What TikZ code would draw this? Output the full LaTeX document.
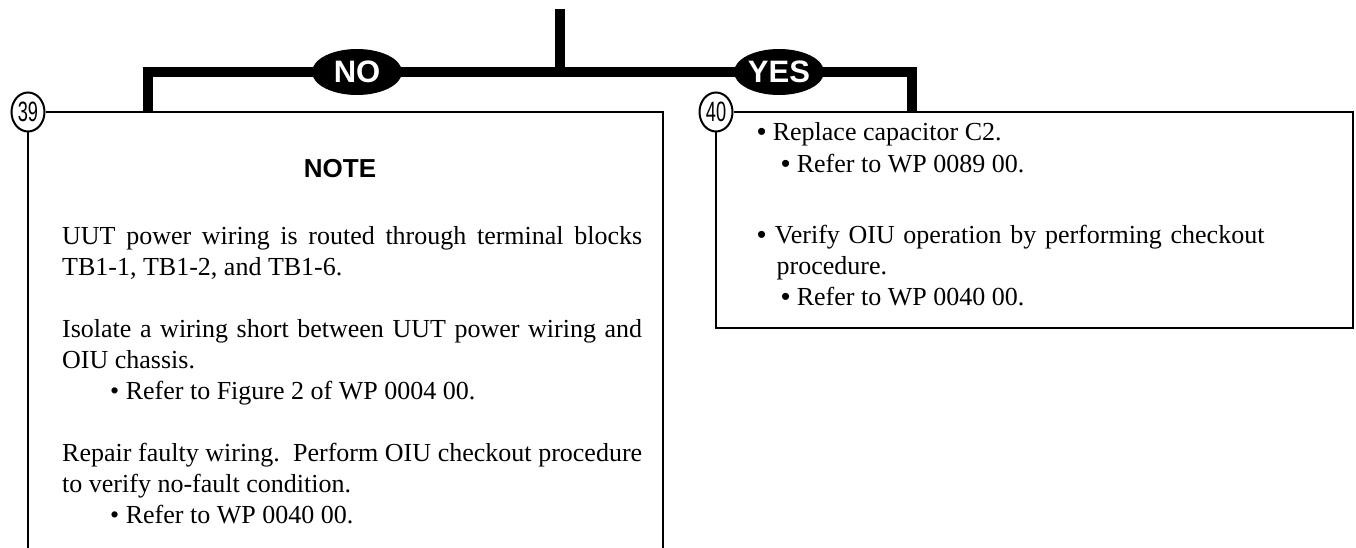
\documentclass[tikz,border=0pt]{standalone}
\usepackage{fontspec}
\setmainfont{Liberation Serif}
\setsansfont{Liberation Sans}
\newfontfamily\narrowsans[FakeStretch=0.65]{Liberation Sans}
\usetikzlibrary{shapes.geometric}

\begin{document}
\begin{tikzpicture}[x=1pt,y=-1pt,line join=miter,
	flow/.style={line width=10pt},
	frame/.style={line width=2pt},
	answer/.style={ellipse,fill=black,text=white,inner sep=0pt,minimum width=90pt,minimum height=46pt,font=\sffamily\bfseries\fontsize{31}{31}\selectfont},
	stepno/.style={ellipse,draw,line width=2pt,fill=white,inner sep=0pt,minimum width=33pt,minimum height=39pt,font=\narrowsans\fontsize{28}{28}\selectfont},
	txt/.style={anchor=base west,inner sep=0pt,font=\fontsize{26}{31}\selectfont},
	para/.style={txt,text width=580pt,align=justify}]
	\useasboundingbox (0,0) rectangle (1356,548);
	% decision bar
	\coordinate (top) at (560,9);
	\coordinate (fork) at (560,72);
	\coordinate (lcorner) at (148,72);
	\coordinate (rcorner) at (912,72);
	\coordinate (ldrop) at (148,112);
	\coordinate (rdrop) at (912,112);
	\draw[flow] (top)--(fork);
	\draw[flow] (ldrop)--(lcorner)--(rcorner)--(rdrop);
	\node[answer] (no) at (357,72) {NO};
	\node[answer] (yes) at (779,72) {YES};
	% step 39
	\node[stepno] (s39) at (28,112) {39};
	\coordinate (lbox ne) at (663,112);
	\coordinate (lbox se) at (663,552);
	\coordinate (lbox sw) at (28,552);
	\draw[frame] (s39)--(lbox ne)--(lbox se);
	\draw[frame] (s39)--(lbox sw);
	\node[txt,anchor=base,font=\sffamily\bfseries\fontsize{26}{31}\selectfont] (note) at (340,178) {NOTE};
	\node[para] (p1) at (62,244) {UUT power wiring is routed through terminal blocks\linebreak TB1-1, TB1-2, and TB1-6.};
	\node[para] (p2) at (62,337) {Isolate a wiring short between UUT power wiring and\linebreak OIU chassis.};
	\node[txt] (p2a) at (110,399) {\textbullet\ Refer to Figure 2 of WP 0004 00.};
	\node[para] (p3) at (62,461) {Repair faulty wiring.\ \ Perform OIU checkout procedure\linebreak to verify no-fault condition.};
	\node[txt] (p3a) at (110,523) {\textbullet\ Refer to WP 0040 00.};
	% step 40
	\node[stepno] (s40) at (716,112) {40};
	\coordinate (rbox ne) at (1353,112);
	\coordinate (rbox se) at (1353,328);
	\coordinate (rbox sw) at (716,328);
	\draw[frame] (s40)--(rbox ne)--(rbox se)--(rbox sw)--(s40);
	\node[txt] (b1) at (757,141) {{\sffamily\textbullet}\ Replace capacitor C2.};
	\node[txt] (b1a) at (781,172) {{\sffamily\textbullet}\ Refer to WP 0089 00.};
	\node[txt,text width=560pt,align=left] (b2) at (757,243) {{\sffamily\textbullet}\ Verify OIU operation by performing checkout\\\hspace*{0.75em}procedure.};
	\node[txt] (b2a) at (781,305) {{\sffamily\textbullet}\ Refer to WP 0040 00.};
\end{tikzpicture}
\end{document}
